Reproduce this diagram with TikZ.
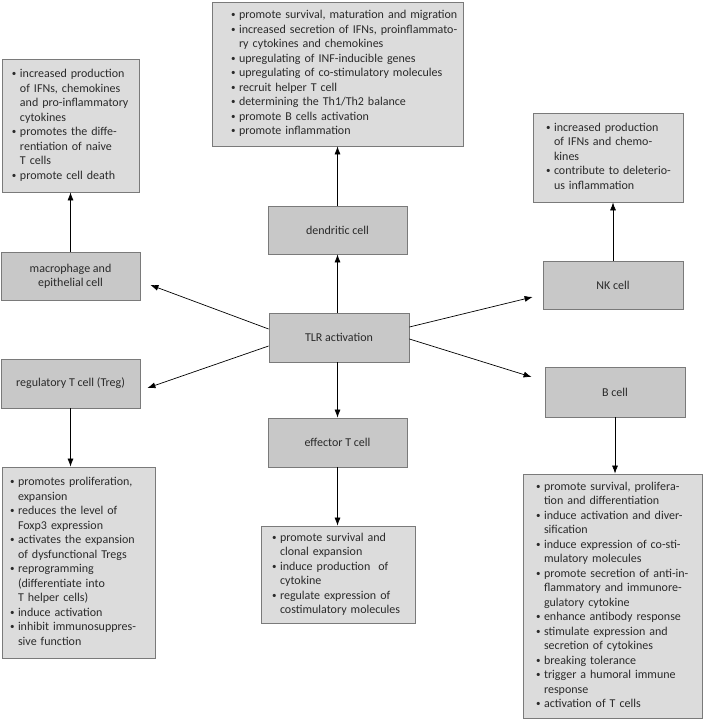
\documentclass[tikz,border=0pt]{standalone}
\usepackage{fontspec}
\setmainfont{Carlito}
\usetikzlibrary{arrows.meta}
\definecolor{cellfill}{HTML}{C8C8C8}
\definecolor{listfill}{HTML}{DCDCDC}
\definecolor{edgegray}{HTML}{7A7A7A}
\definecolor{txt}{HTML}{2A2A2A}
\newcommand{\bi}{\makebox[8pt][l]{\raisebox{0.2ex}{\fontsize{9}{9}\selectfont\textbullet}}}
\newcommand{\ci}{\hspace*{8pt}}
\newcommand{\lst}[1]{\begin{tabular}{@{}l@{}}#1\end{tabular}}
\begin{document}
\begin{tikzpicture}[x=1pt,y=-1pt,
 cellbox/.style={draw=edgegray, fill=cellfill, line width=0.8pt, text=txt, align=center,
   font=\fontsize{12}{14}\selectfont, inner sep=0pt},
 listbox/.style={draw=edgegray, fill=listfill, line width=0.8pt, text=txt, align=left,
   font=\fontsize{12}{14.5}\selectfont, inner ysep=0pt},
 arr/.style={-{Latex[length=8pt,width=6pt]}, line width=0.7pt, black}
]
\useasboundingbox (0,0) rectangle (703,719);

% cell boxes
\node[cellbox, minimum width=139pt, minimum height=48pt] (mac) at (70.5,276) {macrophage and\\epithelial cell};
\node[cellbox, minimum width=139pt, minimum height=48pt] (dend) at (337.5,230) {dendritic cell};
\node[cellbox, minimum width=140pt, minimum height=48pt] (nk) at (613,285) {NK cell};
\node[cellbox, minimum width=140pt, minimum height=49pt] (tlr) at (339,337.5) {TLR activation};
\node[cellbox, minimum width=139pt, minimum height=49pt] (treg) at (70.5,383.5) {regulatory T cell (Treg)};
\node[cellbox, minimum width=140pt, minimum height=50pt] (bcell) at (615,392) {B cell};
\node[cellbox, minimum width=139pt, minimum height=49pt] (eff) at (337.5,442.5) {effector T cell};

% list boxes
\node[listbox, minimum width=137pt, minimum height=133pt, text width=117pt, inner xsep=10pt] (tl) at (70.5,125.5) {\lst{%
\bi increased production\\
\ci of IFNs, chemokines\\
\ci and pro-inflammatory\\
\ci cytokines\\
\bi promotes the diffe-\\
\ci rentiation of naive\\
\ci T cells\\
\bi promote cell death}};

\node[listbox, minimum width=251pt, minimum height=144pt, text width=213pt, inner xsep=19pt] (tm) at (337.5,74) {\lst{%
\bi promote survival, maturation and migration\\
\bi increased secretion of IFNs, proinflammato-\\
\ci ry cytokines and chemokines\\
\bi upregulating of INF-inducible genes\\
\bi upregulating of co-stimulatory molecules\\
\bi recruit helper T cell\\
\bi determining the Th1/Th2 balance\\
\bi promote B cells activation\\
\bi promote inflammation}};

\node[listbox, minimum width=150pt, minimum height=89pt, text width=124pt, inner xsep=13pt] (tr) at (608,157.5) {\lst{%
\bi increased production\\
\ci of IFNs and chemo-\\
\ci kines\\
\bi contribute to deleterio-\\
\ci us inflammation}};

\node[listbox, minimum width=153pt, minimum height=191pt, text width=137pt, inner xsep=8pt] (bl) at (78.5,562.5) {\lst{%
\bi promotes proliferation,\\
\ci expansion\\
\bi reduces the level of\\
\ci Foxp3 expression\\
\bi activates the expansion\\
\ci of dysfunctional Tregs\\
\bi reprogramming\\
\ci (differentiate into\\
\ci T helper cells)\\
\bi induce activation\\
\bi inhibit immunosuppres-\\
\ci sive function}};

\node[listbox, minimum width=154pt, minimum height=97pt, text width=132pt, inner xsep=11pt] (bm) at (338,574.5) {\lst{%
\bi promote survival and\\
\ci clonal expansion\\
\bi induce production~ of\\
\ci cytokine\\
\bi regulate expression of\\
\ci costimulatory molecules}};

\node[listbox, minimum width=179pt, minimum height=244pt, text width=153pt, inner xsep=13pt] (br) at (612.5,596) {\lst{%
\bi promote survival, prolifera-\\
\ci tion and differentiation\\
\bi induce activation and diver-\\
\ci sification\\
\bi induce expression of co-sti-\\
\ci mulatory molecules\\
\bi promote secretion of anti-in-\\
\ci flammatory and immunore-\\
\ci gulatory cytokine\\
\bi enhance antibody response\\
\bi stimulate expression and\\
\ci secretion of cytokines\\
\bi breaking tolerance\\
\bi trigger a humoral immune\\
\ci response\\
\bi activation of T cells}};

% vertical connectors
\draw[arr] (mac.north) -- (mac.north |- tl.south);
\draw[arr] (dend.north) -- (dend.north |- tm.south);
\draw[arr] (nk.north) -- (nk.north |- tr.south);
\draw[arr] (dend.south |- tlr.north) -- (dend.south);
\draw[arr] (eff.north |- tlr.south) -- (eff.north);
\draw[arr] (treg.south) -- (treg.south |- bl.north);
\draw[arr] (eff.south) -- (eff.south |- bm.north);
\draw[arr] (bcell.south) -- (bcell.south |- br.north);

% diagonal connectors
\draw[arr] ([yshift=8.5pt]tlr.west) -- ([xshift=10pt,yshift=-9pt]mac.east);
\draw[arr] ([yshift=-8.5pt]tlr.west) -- ([xshift=7pt,yshift=-4.5pt]treg.east);
\draw[arr] ([yshift=10.5pt]tlr.east) -- ([xshift=-10pt,yshift=-12pt]nk.west);
\draw[arr] ([yshift=-1.5pt]tlr.east) -- ([xshift=-13pt,yshift=15pt]bcell.west);
\end{tikzpicture}
\end{document}
